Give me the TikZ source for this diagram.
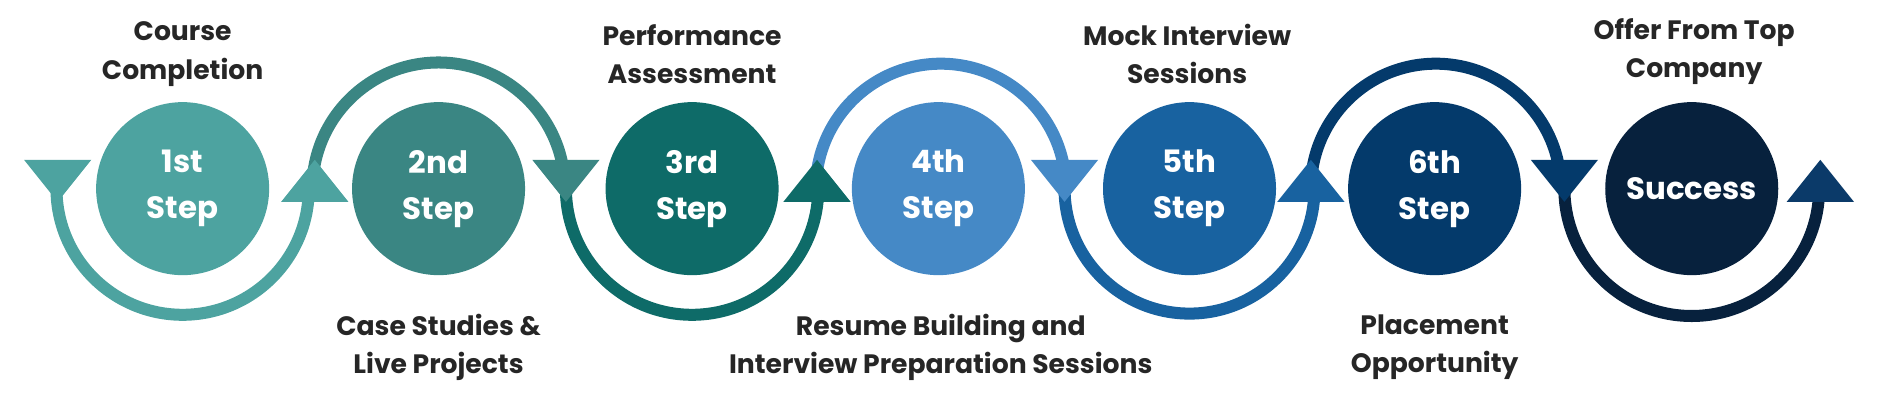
\documentclass[tikz,border=0pt]{standalone}
\usepackage{fontspec}
\setmainfont{Poppins}
\begin{document}
\begin{tikzpicture}[x=0.01cm,y=0.01cm,
  stepc/.style={circle,minimum size=144*0.01cm,inner sep=0,text=white,align=center,font=\bfseries\fontsize{7.3}{10.9}\selectfont},
  lbl/.style={align=center,text=black!85,font=\bfseries\fontsize{6.3}{9.1}\selectfont},
  seg/.style={line width=10*0.01cm}]
\useasboundingbox (0,0) rectangle (1568,333);
\definecolor{c1}{HTML}{4DA3A0}\definecolor{c2}{HTML}{3A8683}\definecolor{c3}{HTML}{0E6B68}
\definecolor{c4}{HTML}{4589C6}\definecolor{c5}{HTML}{1862A0}\definecolor{c6}{HTML}{043A6B}
\definecolor{c7}{HTML}{07213D}\definecolor{c8}{HTML}{0B3A69}
% arcs
\draw[seg,c1] (47,176) arc[start angle=180,end angle=360,radius=105];
\draw[seg,c2] (260,176) arc[start angle=180,end angle=0,radius=105];
\draw[seg,c3] (471,176) arc[start angle=180,end angle=360,radius=105];
\draw[seg,c4] (679,176) arc[start angle=180,end angle=0,radius=104];
\draw[seg,c5] (886,176) arc[start angle=180,end angle=360,radius=104];
\draw[seg,c6] (1091,176) arc[start angle=180,end angle=0,radius=104];
\draw[seg,c7] (1302,176) arc[start angle=180,end angle=360,radius=106];
% arrowheads
\fill[c1] (20,200) -- (76,200) -- (48,165) -- cycle;
\fill[c1] (234,165) -- (290,165) -- (262,200) -- cycle;
\fill[c2] (443,200) -- (499,200) -- (471,165) -- cycle;
\fill[c3] (652,165) -- (708,165) -- (680,200) -- cycle;
\fill[c4] (858,200) -- (914,200) -- (886,165) -- cycle;
\fill[c5] (1063,165) -- (1119,165) -- (1091,200) -- cycle;
\fill[c6] (1274,200) -- (1330,200) -- (1302,165) -- cycle;
\fill[c8] (1487,165) -- (1543,165) -- (1515,200) -- cycle;
% circles
\node[stepc,fill=c1] (s1) at (152,176) {1st\\Step};
\node[stepc,fill=c2] (s2) at (365,176) {2nd\\Step};
\node[stepc,fill=c3] (s3) at (576,176) {3rd\\Step};
\node[stepc,fill=c4] (s4) at (781,176) {4th\\Step};
\node[stepc,fill=c5] (s5) at (990,176) {5th\\Step};
\node[stepc,fill=c6] (s6) at (1194,176) {6th\\Step};
\node[stepc,fill=c7] (s7) at (1408,176) {Success};
% labels
\node[lbl] (l1) at (152,288) {Course\\Completion};
\node[lbl] (l3) at (576,288) {Performance\\Assessment};
\node[lbl] (l5) at (988,288) {Mock Interview\\Sessions};
\node[lbl] (l7) at (1410,290) {Offer From Top\\Company};
\node[lbl] (l2) at (365,44) {Case Studies \&\\Live Projects};
\node[lbl] (l4) at (783,44) {Resume Building and\\Interview Preparation Sessions};
\node[lbl] (l6) at (1194,44) {Placement\\Opportunity};
\end{tikzpicture}
\end{document}
